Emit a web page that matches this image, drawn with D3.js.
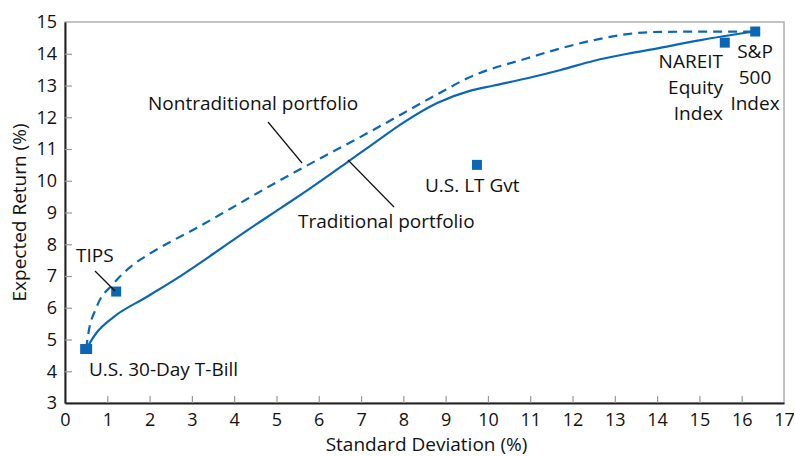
<!DOCTYPE html>
<html>
<head>
<meta charset="utf-8">
<script src="https://cdn.jsdelivr.net/npm/d3@7"></script>
<style>
  body { margin: 0; background: #fff; }
  text { font-family: "Open Sans", Lato, sans-serif; fill: #111; }
</style>
</head>
<body>
<div id="chart"></div>
<script>
// frontier curves (std dev %, expected return %)
const traditionalSd = [0.5, 0.75, 1.14, 1.93, 2.72, 3.51, 4.30, 5.09, 5.64, 6.71, 7.22, 8.01, 8.80, 9.59, 10.14, 10.93, 11.72, 12.51, 13.30, 14.01, 15.03, 16.3]
const traditionalRet = [4.7, 5.22, 5.70, 6.34, 6.99, 7.70, 8.43, 9.13, 9.62, 10.62, 11.10, 11.84, 12.45, 12.84, 13.00, 13.23, 13.49, 13.78, 14.00, 14.17, 14.43, 14.7]

const nontradSd = [0.5, 0.54, 0.75, 1.14, 1.54, 2.0, 2.5, 3.12, 3.91, 4.93, 5.64, 7.22, 8.80, 9.50, 10.93, 12.51, 13.30, 14.09, 16.3]
const nontradRet = [4.7, 5.09, 6.03, 6.75, 7.28, 7.70, 8.08, 8.52, 9.12, 9.90, 10.42, 11.55, 12.72, 13.22, 13.86, 14.43, 14.62, 14.69, 14.7]

// single assets
const assetNames = ["U.S. 30-Day T-Bill", "TIPS", "U.S. LT Gvt", "NAREIT Equity Index", "S&P 500 Index"]
const assetSd = [0.5, 1.21, 9.74, 15.6, 16.32]
const assetRet = [4.7, 6.51, 10.5, 14.35, 14.7]

const xTicks = d3.range(0, 18)
const yTicks = d3.range(3, 16)

const width = 795
const height = 456
const margins = { left: 65, right: 11, top: 22, bottom: 53 }
const blue = "#0b67b4"

const svg = d3.select("#chart").append("svg")
  .attr("width", width)
  .attr("height", height)

const xScale = d3.scaleLinear().domain([0, 17]).range([margins.left, width - margins.right])
const yScale = d3.scaleLinear().domain([3, 15]).range([height - margins.bottom, margins.top])

// frame: gray top/right, dark left/bottom
svg.append("rect")
  .attr("x", xScale(0)).attr("y", yScale(15))
  .attr("width", xScale(17) - xScale(0)).attr("height", yScale(3) - yScale(15))
  .attr("fill", "none").attr("stroke", "#b0b0b0").attr("stroke-width", 1.5)

const xAxis = d3.axisBottom(xScale).tickValues(xTicks).tickSizeInner(-7).tickSizeOuter(0).tickPadding(10)
const yAxis = d3.axisLeft(yScale).tickValues(yTicks).tickSizeInner(-7).tickSizeOuter(0).tickPadding(8)

const gx = svg.append("g").attr("transform", `translate(0, ${yScale(3)})`).call(xAxis)
const gy = svg.append("g").attr("transform", `translate(${xScale(0)}, 0)`).call(yAxis)
;[gx, gy].forEach((g) => {
  g.select(".domain").attr("stroke", "#222").attr("stroke-width", 2)
  g.selectAll(".tick line").attr("stroke", "#999").attr("stroke-width", 1.2)
  g.selectAll(".tick text").attr("font-size", 18).attr("fill", "#111")
    .style("font-family", "'Open Sans', Lato, sans-serif")
})
gx.selectAll(".tick").filter((d) => d === 0 || d === 17).select("line").remove()
gy.selectAll(".tick").filter((d) => d === 3 || d === 15).select("line").remove()

// axis titles
svg.append("text")
  .attr("x", (xScale(0) + xScale(17)) / 2 + 2).attr("y", 451)
  .attr("text-anchor", "middle").attr("font-size", 19)
  .text("Standard Deviation (%)")
svg.append("text")
  .attr("transform", `translate(26, ${(yScale(3) + yScale(15)) / 2}) rotate(-90)`)
  .attr("text-anchor", "middle").attr("font-size", 19)
  .text("Expected Return (%)")

// curves
const line = d3.line()
  .x((d) => xScale(d[0]))
  .y((d) => yScale(d[1]))
  .curve(d3.curveMonotoneX)

svg.append("path")
  .datum(d3.zip(traditionalSd, traditionalRet))
  .attr("d", line)
  .attr("fill", "none").attr("stroke", blue).attr("stroke-width", 2.2)

svg.append("path")
  .datum(d3.zip(nontradSd, nontradRet))
  .attr("d", line)
  .attr("fill", "none").attr("stroke", blue).attr("stroke-width", 2.2)
  .attr("stroke-dasharray", "9,6")

// asset markers
const markerSize = [12, 10, 10, 10, 10]
svg.selectAll("rect.asset")
  .data(assetNames)
  .enter()
  .append("rect")
  .attr("class", "asset")
  .attr("x", (d, i) => xScale(assetSd[i]) - markerSize[i] / 2)
  .attr("y", (d, i) => yScale(assetRet[i]) - 5)
  .attr("width", (d, i) => markerSize[i])
  .attr("height", 10)
  .attr("fill", blue)

// labels
const label = (x, y, lines, anchor) => {
  const t = svg.append("text").attr("font-size", 19).attr("text-anchor", anchor)
  lines.forEach((s, i) => {
    t.append("tspan").attr("x", x).attr("y", y + i * 26).text(s)
  })
}
label(89, 376, ["U.S. 30-Day T-Bill"], "start")
label(76, 262, ["TIPS"], "start")
label(425, 192, ["U.S. LT Gvt"], "start")
label(723, 68, ["NAREIT", "Equity", "Index"], "end")
label(755, 58, ["S&P", "500", "Index"], "middle")
label(148, 110, ["Nontraditional portfolio"], "start")
label(298, 228, ["Traditional portfolio"], "start")

// leader lines
const leaders = [
  [[95, 271], [115, 291]],
  [[268, 122], [302, 163]],
  [[348, 160], [394, 207]],
]
svg.selectAll("line.leader")
  .data(leaders)
  .enter()
  .append("line")
  .attr("class", "leader")
  .attr("x1", (d) => d[0][0]).attr("y1", (d) => d[0][1])
  .attr("x2", (d) => d[1][0]).attr("y2", (d) => d[1][1])
  .attr("stroke", "#111").attr("stroke-width", 1.2)
</script>
</body>
</html>
